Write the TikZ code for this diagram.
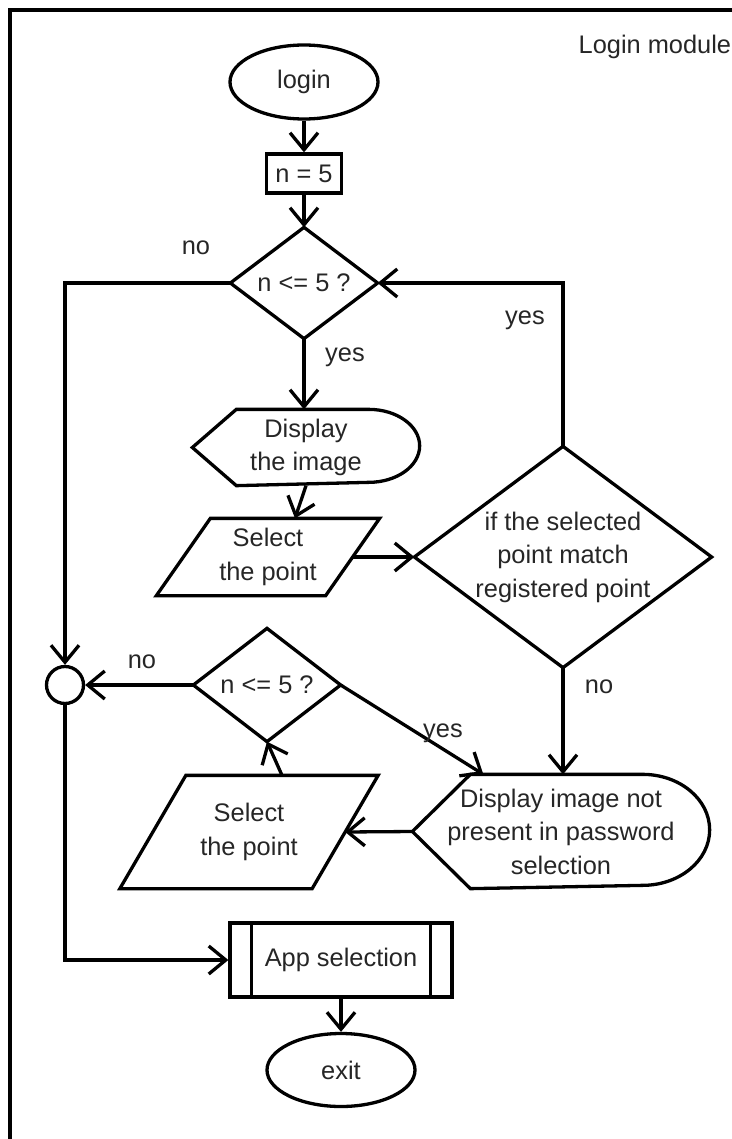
\documentclass[tikz,border=0pt]{standalone}
\usepackage{fontspec}
\setmainfont{Liberation Sans}
\usetikzlibrary{arrows.meta,calc,shapes.geometric}

\begin{document}
\begin{tikzpicture}[x=0.5pt,y=-0.5pt,
  line width=1.65pt,
  >={Straight Barb[length=8.5pt,width=14pt]},
  lbl/.style={font=\fontsize{12.7}{16.75}\selectfont, text=black!85, inner sep=0pt, align=center},
  flow/.style={->}]
\useasboundingbox (0,0) rectangle (732,1139);

% outer frame
\draw[line width=1.7pt] (10,1139) -- (10,10) -- (732,10);

% title
\node[lbl, anchor=west] (title) at (577,47) {Login module};

% start and counter
\node[lbl, ellipse, draw, minimum width=74pt, minimum height=37pt] (login) at (304,82) {login};
\node[lbl, rectangle, draw, minimum width=37.5pt, minimum height=19.5pt] (init) at (304,173.5) {n = 5};

% first test
\node[lbl, minimum width=72pt, minimum height=54pt] (d1) at (304,283) {n <= 5 ?};
\draw (d1.north) -- (d1.east) -- (d1.south) -- (d1.west) -- cycle;

% display the image
\node[lbl, minimum width=112pt, minimum height=36.5pt] (disp1) at (306,447.5) {Display\\the image};
\draw (disp1.west) -- ($(disp1.north west)+(44,0)$) -- ($(disp1.north east)-(51,0)$)
  arc[start angle=90, end angle=-90, x radius=25.5pt, y radius=18.25pt]
  -- ($(disp1.south west)+(44,0)$) -- cycle;

% select the point (first)
\node[lbl, minimum width=110pt, minimum height=37pt] (sel1) at (268,557) {Select\\the point};
\draw (sel1.south west) -- ($(sel1.north west)+(54,0)$) -- (sel1.north east)
  -- ($(sel1.south east)-(54,0)$) -- cycle;
\coordinate (sel1top) at ($(sel1.north)+(27,0)$);
\coordinate (sel1right) at ($(sel1.east)-(27,0)$);

% match test
\node[lbl, minimum width=147pt, minimum height=109pt] (match) at (563,557) {if the selected\\point match\\registered point};
\draw (match.north) -- (match.east) -- (match.south) -- (match.west) -- cycle;

% display image not present
\node[lbl, minimum width=147pt, minimum height=55.5pt] (disp2) at (561,831.5) {Display image not\\present in password\\selection};
\draw (disp2.west) -- ($(disp2.north west)+(58,0)$) -- ($(disp2.north east)-(67,0)$)
  arc[start angle=90, end angle=-90, x radius=33.5pt, y radius=27.75pt]
  -- ($(disp2.south west)+(58,0)$) -- cycle;
\coordinate (disp2in) at ($(disp2.north west)+(71,0)$);

% select the point (second)
\node[lbl, minimum width=127.5pt, minimum height=55pt] (sel2) at (249,832) {Select\\the point};
\draw (sel2.south west) -- ($(sel2.north west)+(66,0)$) -- (sel2.north east)
  -- ($(sel2.south east)-(66,0)$) -- cycle;
\coordinate (sel2top) at ($(sel2.north)+(33,0)$);
\coordinate (sel2right) at ($(sel2.east)-(33,0)$);

% second test
\node[lbl, minimum width=72pt, minimum height=55pt] (d2) at (267,685) {n <= 5 ?};
\draw (d2.north) -- (d2.east) -- (d2.south) -- (d2.west) -- cycle;

% connector circle
\node[circle, draw, minimum size=18.5pt, inner sep=0pt] (join) at (65,685) {};

% app selection and exit
\node[lbl, draw, minimum width=111pt, minimum height=37pt] (app) at (341,960) {App selection};
\draw ($(app.north west)+(23,0)$) -- ($(app.south west)+(23,0)$);
\draw ($(app.north east)-(23,0)$) -- ($(app.south east)-(23,0)$);
\node[lbl, ellipse, draw, minimum width=74pt, minimum height=36.5pt] (exit) at (341,1070) {exit};

% connectors
\draw[flow] (login.south) -- (init.north);
\draw[flow] (init.south) -- (d1.north);
\draw[flow] (d1.west) -| (join.north);
\draw[flow] (d1.south) -- (d1.south |- disp1.north);
\draw[flow] (disp1.south) -- (sel1top);
\draw[flow] (sel1right) -- (match.west);
\draw[flow] (match.north) |- (d1.east);
\draw[flow] (match.south) -- (match.south |- disp2.north);
\draw[flow] (disp2.west) -- (sel2right);
\draw[flow] (sel2top) -- (d2.south);
\draw[flow] (d2.west) -- (join.east);
\draw[flow] (d2.east) -- (disp2in);
\draw[flow] (join.south) |- (app.west);
\draw[flow] (app.south) -- (exit.north);

% branch labels
\node[lbl] (no1) at (196,248) {no};
\node[lbl] (yes1) at (345,357) {yes};
\node[lbl] (yes2) at (525,320) {yes};
\node[lbl] (no2) at (142,662) {no};
\node[lbl] (yes3) at (443,733) {yes};
\node[lbl] (no3) at (599,687) {no};
\end{tikzpicture}
\end{document}
